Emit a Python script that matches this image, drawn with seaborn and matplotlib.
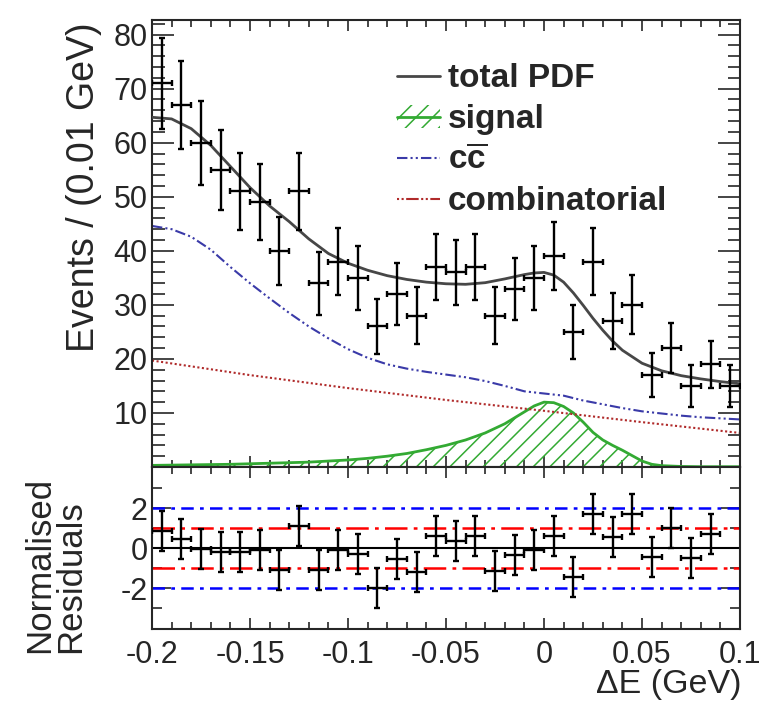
import numpy as np
import pandas as pd
import matplotlib
matplotlib.use("Agg")
import matplotlib.pyplot as plt
import seaborn as sns
from matplotlib.lines import Line2D
from matplotlib.patches import Patch
from matplotlib.ticker import MultipleLocator, FixedLocator

# ---------------- data ----------------
bin_centers = [-0.195, -0.185, -0.175, -0.165, -0.155, -0.145, -0.135, -0.125, -0.115, -0.105,
               -0.095, -0.085, -0.075, -0.065, -0.055, -0.045, -0.035, -0.025, -0.015, -0.005,
               0.005, 0.015, 0.025, 0.035, 0.045, 0.055, 0.065, 0.075, 0.085, 0.095]
counts = [71, 67, 60, 55, 51, 49, 40, 51, 34, 38,
          35, 26, 32, 28, 37, 36, 37, 28, 33, 35,
          39, 25, 38, 27, 30, 17, 22, 15, 19, 15]

pull_centers = bin_centers[:29]
pulls = [0.85, 0.45, -0.05, -0.2, -0.2, -0.1, -1.1, 1.1, -1.1, -0.1,
         -0.3, -2.0, -0.55, -1.2, 0.6, 0.35, 0.62, -1.15, -0.35, -0.1,
         0.6, -1.43, 1.68, 0.57, 1.68, -0.43, 0.98, -0.48, 0.68]

total_x = [-0.200, -0.190, -0.180, -0.170, -0.160, -0.150, -0.140, -0.130, -0.120, -0.110,
           -0.100, -0.090, -0.080, -0.070, -0.060, -0.050, -0.040, -0.030, -0.020, -0.010,
           -0.005, 0.000, 0.005, 0.010, 0.015, 0.020, 0.025, 0.030, 0.035, 0.040,
           0.050, 0.060, 0.070, 0.080, 0.090, 0.100]
total_y = [64.7, 64.4, 62.6, 59.5, 55.6, 51.7, 48.3, 45.4, 42.2, 39.5,
           37.7, 36.4, 35.4, 34.7, 34.2, 33.9, 33.8, 34.1, 34.8, 35.6,
           35.9, 36.0, 35.5, 34.2, 32.2, 29.9, 27.5, 25.3, 23.3, 21.6,
           19.2, 17.8, 16.9, 16.3, 15.8, 15.4]

cc_x = [-0.20, -0.19, -0.18, -0.17, -0.16, -0.15, -0.14, -0.13, -0.12, -0.11,
        -0.10, -0.09, -0.08, -0.07, -0.06, -0.05, -0.04, -0.03, -0.02, -0.01,
        0.00, 0.01, 0.02, 0.03, 0.04, 0.05, 0.06, 0.07, 0.08, 0.09, 0.10]
cc_y = [44.6, 44.0, 42.6, 40.2, 37.0, 34.0, 31.2, 28.5, 26.0, 23.8,
        21.8, 20.2, 19.0, 18.2, 17.6, 17.1, 16.6, 15.9, 15.0, 14.0,
        13.6, 13.2, 12.3, 11.6, 10.9, 10.3, 9.9, 9.5, 9.2, 9.0, 8.8]

comb_x = [-0.20, -0.15, -0.10, -0.05, 0.00, 0.05, 0.10]
comb_y = [19.7, 17.0, 14.6, 12.4, 10.4, 8.3, 6.3]

sig_x = [-0.20, -0.18, -0.16, -0.14, -0.12, -0.10, -0.09, -0.08, -0.07, -0.06,
         -0.05, -0.04, -0.03, -0.02, -0.01, -0.005, 0.0, 0.005, 0.01, 0.015,
         0.02, 0.025, 0.03, 0.035, 0.04, 0.045, 0.05, 0.055, 0.06, 0.07, 0.08, 0.10]
sig_y = [0.3, 0.4, 0.5, 0.7, 0.9, 1.3, 1.6, 2.0, 2.5, 3.2,
         4.0, 5.0, 6.3, 8.0, 10.2, 11.3, 12.0, 11.9, 11.2, 10.0,
         8.3, 6.4, 5.0, 4.0, 3.1, 2.1, 1.1, 0.5, 0.25, 0.1, 0.05, 0.05]

xtick_values = [-0.2, -0.15, -0.1, -0.05, 0.0, 0.05, 0.1]
xtick_labels = ["-0.2", "-0.15", "-0.1", "-0.05", "0", "0.05", "0.1"]
ytick_values = [10, 20, 30, 40, 50, 60, 70, 80]
rtick_values = [-2, 0, 2]
rtick_labels = ["-2", "0", "2"]
legend_labels = ["total PDF", "signal", r"c$\mathbf{\overline{c}}$", "combinatorial"]

# ---------------- style ----------------
sns.set_style("ticks")
plt.rcParams["font.family"] = ["Liberation Sans", "DejaVu Sans"]
plt.rcParams["mathtext.fontset"] = "custom"
plt.rcParams["mathtext.rm"] = "Liberation Sans"
plt.rcParams["mathtext.bf"] = "Liberation Sans:bold"
plt.rcParams["hatch.linewidth"] = 1.1
plt.rcParams["axes.unicode_minus"] = False

GREEN = "#33aa33"
BLUE_CC = "#3a3aa8"
RED_COMB = "#b02a2a"
TOTAL = "#474747"

fig = plt.figure(figsize=(7.71, 7.04), dpi=100)
L, W = 152 / 771, 588 / 771
ax = fig.add_axes([L, 1 - 467 / 704, W, 447 / 704])
axr = fig.add_axes([L, 1 - 629 / 704, W, 162 / 704])

# ---------------- top panel ----------------
ax.fill_between(sig_x, 0, sig_y, facecolor="none", edgecolor=GREEN, hatch="//", linewidth=0, zorder=1)
sns.lineplot(x=sig_x, y=sig_y, ax=ax, color=GREEN, lw=2.0, zorder=2)
sns.lineplot(x=comb_x, y=comb_y, ax=ax, color=RED_COMB, lw=1.5, linestyle=(0, (1, 1.2)), zorder=2)
sns.lineplot(x=cc_x, y=cc_y, ax=ax, color=BLUE_CC, lw=1.5, linestyle=(0, (5, 1.5, 1, 1.5, 1, 1.5)), zorder=2)
sns.lineplot(x=total_x, y=total_y, ax=ax, color=TOTAL, lw=2.0, zorder=3)
cnt = np.array(counts, dtype=float)
ax.errorbar(bin_centers, counts, yerr=np.sqrt(cnt), xerr=0.005, fmt="none", ecolor="black",
            elinewidth=1.7, capsize=2.5, capthick=1.7, zorder=4)

ax.set_xlim(-0.2, 0.1)
ax.set_ylim(0.0, 82.7)
ax.set_xlabel("")
ax.set_ylabel("")
ax.xaxis.set_major_locator(FixedLocator(xtick_values))
ax.xaxis.set_minor_locator(MultipleLocator(0.01))
ax.yaxis.set_major_locator(FixedLocator(ytick_values))
ax.yaxis.set_minor_locator(MultipleLocator(2))
ax.set_yticklabels([str(v) for v in ytick_values])
ax.tick_params(axis="x", which="major", direction="in", length=8, width=1.2, top=True, bottom=True, labelbottom=False)
ax.tick_params(axis="x", which="minor", direction="in", length=5, width=1.2, top=True, bottom=True)
ax.tick_params(axis="y", which="major", direction="in", length=16, width=1.2, left=True, right=True, labelsize=22, pad=3)
ax.tick_params(axis="y", which="minor", direction="in", length=9, width=1.2, left=True, right=True)

handles = [
    Line2D([], [], color=TOTAL, lw=2.0),
    (Patch(facecolor="none", edgecolor=GREEN, hatch="//", linewidth=0), Line2D([], [], color=GREEN, lw=2.0)),
    Line2D([], [], color=BLUE_CC, lw=1.5, linestyle=(0, (5, 1.5, 1, 1.5, 1, 1.5))),
    Line2D([], [], color=RED_COMB, lw=1.5, linestyle=(0, (1, 1.2, 1, 1.2, 6, 1.2))),
]
ax.legend(handles, legend_labels, loc="upper left", bbox_to_anchor=(0.4167, 0.903), frameon=False,
          prop={"weight": "bold", "size": 24}, handlelength=1.3, handletextpad=0.22,
          labelspacing=0.3, borderpad=0, borderaxespad=0)

# ---------------- residual panel ----------------
axr.axhline(0, color="black", lw=1.5, zorder=1)
for v in (1, -1):
    axr.axhline(v, color="#ff0000", lw=1.8, linestyle=(0, (9, 2.5, 1.5, 2.5)), zorder=1)
for v in (2, -2):
    axr.axhline(v, color="#0000ff", lw=1.8, linestyle=(0, (5, 2.5, 1.5, 2.5)), zorder=1)
axr.errorbar(pull_centers, pulls, yerr=1.0, xerr=0.005, fmt="none", ecolor="black",
             elinewidth=1.7, capsize=2.5, capthick=1.7, zorder=3)
axr.set_xlim(-0.2, 0.1)
axr.set_ylim(-4.05, 4.05)
axr.xaxis.set_major_locator(FixedLocator(xtick_values))
axr.set_xticklabels(xtick_labels)
axr.xaxis.set_minor_locator(MultipleLocator(0.01))
axr.yaxis.set_major_locator(FixedLocator(rtick_values))
axr.set_yticklabels(rtick_labels)
axr.yaxis.set_minor_locator(FixedLocator([-3, -1, 1, 3]))
axr.tick_params(axis="x", which="major", direction="in", length=8, width=1.2, top=True, bottom=True, labelsize=22, pad=8)
axr.tick_params(axis="x", which="minor", direction="in", length=5, width=1.2, top=True, bottom=True)
axr.tick_params(axis="y", which="major", direction="in", length=14, width=1.2, left=True, right=True, labelsize=22, pad=3)
axr.tick_params(axis="y", which="minor", direction="in", length=7, width=1.2, left=True, right=True)

for a in (ax, axr):
    for s in a.spines.values():
        s.set_linewidth(1.5)
        s.set_visible(True)

# ---------------- axis titles ----------------
fig.text(84 / 771, 1 - 22 / 704, "Events / (0.01 GeV)", rotation=90, ha="center", va="top", fontsize=27)
fig.text(55 / 771, 1 - 653 / 704, "Normalised\nResiduals", rotation=90, ha="center", va="bottom",
         multialignment="left", fontsize=25, linespacing=0.95)
fig.text(741 / 771, 1 - 685 / 704, "\u0394E (GeV)", ha="right", va="center", fontsize=24.5)

fig.savefig("out.png", dpi=100)
